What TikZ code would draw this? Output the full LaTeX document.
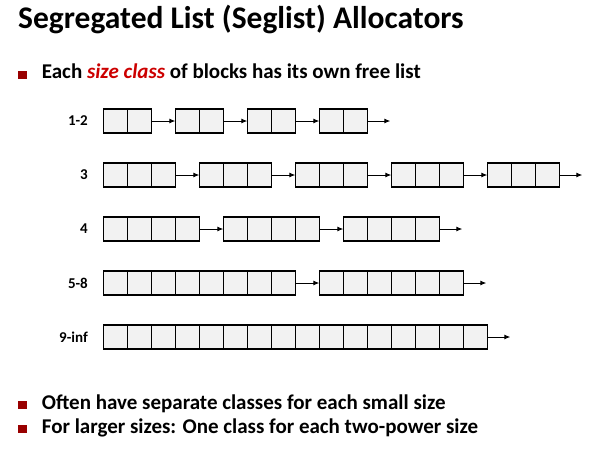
\documentclass[tikz,border=0pt]{standalone}
\usepackage{fontspec}
\setmainfont{Carlito}
\usetikzlibrary{arrows.meta}
\definecolor{cellgray}{HTML}{F2F2F2}
\definecolor{bulletred}{HTML}{990000}
\definecolor{emred}{HTML}{CC0000}
\tikzset{
  cell/.style={draw=black, line width=1.2pt, fill=cellgray, minimum width=24pt,
    minimum height=24pt, inner sep=0pt, outer sep=0pt},
  link/.style={line width=0.9pt, -{Latex[length=6pt,width=5pt]}},
  rowlabel/.style={font=\bfseries\fontsize{15}{17}\selectfont, anchor=east, inner sep=0pt},
  bullet/.style={fill=bulletred, draw=none},
  bullettext/.style={font=\bfseries\fontsize{21}{25}\selectfont, anchor=base west, inner sep=0pt},
}
% one free list: #1 name, #2 row centre y, #3 label, #4 block sizes (in cells)
\newcommand\freelist[4]{%
  \node[rowlabel] (#1-lab) at (88,#2) {#3};
  \foreach \n [count=\i, remember=\i as \pi (initially 0), remember=\n as \pn (initially 0),
               remember=\xe as \xs (initially 103.3)] in {#4} {
    \pgfmathsetmacro\xe{\xs+24*\n+24}
    \foreach \j in {1,...,\n} {
      \node[cell] (#1-b\i-c\j) at ({\xs+24*(\j-1)+12},#2) {};
    }
    \ifnum\pi>0
      \draw[link] (#1-b\pi-c\pn.east) -- (#1-b\i-c1.west);
    \fi
    \xdef\lastcell{#1-b\i-c\n}
    \xdef\lastx{\xs+24*\n}
  }
  \coordinate (#1-tail) at ({\lastx+23},#2);
  \draw[link] (\lastcell.east) -- (#1-tail);
}
\begin{document}
\begin{tikzpicture}[x=1pt,y=-1pt]
\useasboundingbox (0,0) rectangle (599,456);

\node[font=\bfseries\fontsize{31.5}{36}\selectfont, anchor=base west, inner sep=0pt]
  (title) at (18,28.3) {Segregated List (Seglist) Allocators};

\fill[bullet] (18.3,70.8) rectangle (26.8,79);
\node[bullettext] (b1) at (41.7,78.3)
  {Each \textcolor{emred}{\itshape size class} of blocks has its own free list};

\freelist{r12}{121}{1-2}{2,2,2,2}
\freelist{r3}{175}{3}{3,3,3,3,3}
\freelist{r4}{229}{4}{4,4,4}
\freelist{r58}{283}{5-8}{8,6}
\freelist{r9}{337}{9-inf}{16}

\fill[bullet] (18.3,400.5) rectangle (26.8,408.7);
\node[bullettext] (b2) at (41.7,409.3) {Often have separate classes for each small size};
\fill[bullet] (18.3,425) rectangle (26.8,433.2);
\node[bullettext] (b3) at (41.7,433.4) {For larger sizes: One class for each two-power size};
\end{tikzpicture}
\end{document}
